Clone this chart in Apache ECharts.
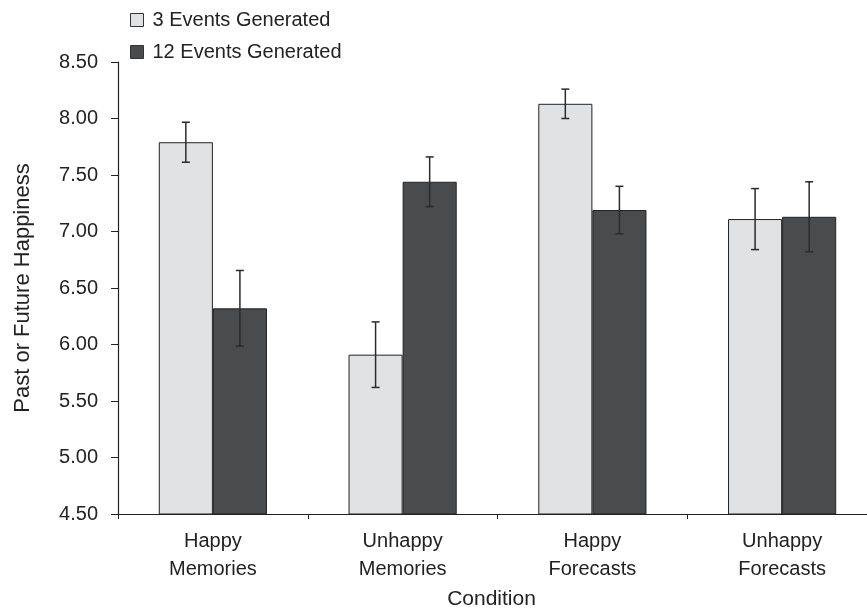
<!DOCTYPE html>
<html>
<head>
<meta charset="utf-8">
<title>Past or Future Happiness</title>
<script src="https://cdn.jsdelivr.net/npm/echarts@6/dist/echarts.min.js"></script>
<style>
	html, body { margin: 0; padding: 0; background: #fff; }
	#main { width: 867px; height: 610px; }
</style>
</head>
<body>
<div id="main"></div>
<script>
var categories = ['Happy\nMemories', 'Unhappy\nMemories', 'Happy\nForecasts', 'Unhappy\nForecasts'];
var seriesNames = ['3 Events Generated', '12 Events Generated'];
var events3 = [7.79, 5.91, 8.13, 7.11];
var events12 = [6.32, 7.44, 7.19, 7.13];
var err3 = [0.177, 0.29, 0.13, 0.27];
var err12 = [0.335, 0.22, 0.21, 0.31];
var yTicks = [4.5, 5, 5.5, 6, 6.5, 7, 7.5, 8, 8.5];

var FONT = 'Liberation Sans';
var barGapPct = 43;

// [index, low, high] for the error bars
function errData(vals, errs) {
	var out = [];
	for (var i = 0; i < vals.length; i++) {
		out.push([i, vals[i] - errs[i], vals[i] + errs[i]]);
	}
	return out;
}

// side: -1 left bar, 1 right bar
function errRender(side) {
	return function(params, api) {
		var idx = api.value(0);
		var lo = api.coord([idx, api.value(1)]);
		var hi = api.coord([idx, api.value(2)]);
		var band = api.size([1, 0])[0];
		var x = lo[0] + side * band * (1 - barGapPct / 100) / 4;
		var cap = 4;
		var style = { stroke: '#2b2b2b', lineWidth: 1.5 };
		return {
			type: 'group',
			children: [
				{ type: 'line', shape: { x1: x, y1: hi[1], x2: x, y2: lo[1] }, style: style },
				{ type: 'line', shape: { x1: x - cap, y1: hi[1], x2: x + cap, y2: hi[1] }, style: style },
				{ type: 'line', shape: { x1: x - cap, y1: lo[1], x2: x + cap, y2: lo[1] }, style: style }
			]
		};
	};
}

var myChart = echarts.init(document.getElementById('main'));
var option = {
	backgroundColor: '#fff',
	animation: false,
	textStyle: { fontFamily: FONT },
	legend: {
		orient: 'vertical',
		left: 125,
		top: 5,
		itemWidth: 13,
		itemHeight: 13,
		itemGap: 12,
		textStyle: { fontFamily: FONT, fontSize: 20, color: '#222', padding: [0, 0, 0, 4] },
		data: [
			{ name: seriesNames[0], icon: 'rect', itemStyle: { color: '#e1e2e4', borderColor: '#333', borderWidth: 1 } },
			{ name: seriesNames[1], icon: 'rect', itemStyle: { color: '#4a4b4d', borderColor: '#333', borderWidth: 1 } }
		]
	},
	// plot runs past the right edge, as in the original
	grid: { left: 118, right: -10, top: 62, bottom: 96, outerBoundsMode: 'none', containLabel: false },
	xAxis: {
		type: 'category',
		data: categories,
		name: 'Condition',
		nameLocation: 'middle',
		nameGap: 75,
		nameTextStyle: { fontFamily: FONT, fontSize: 21, color: '#222', padding: [0, 12, 0, 0] },
		axisLine: { lineStyle: { color: '#222', width: 1.2 } },
		axisTick: { show: true, length: 5, lineStyle: { color: '#222' } },
		axisLabel: { fontFamily: FONT, fontSize: 20, color: '#222', lineHeight: 28, margin: 13 }
	},
	yAxis: {
		type: 'value',
		min: yTicks[0],
		max: yTicks[yTicks.length - 1],
		interval: 0.5,
		name: 'Past or Future Happiness',
		nameLocation: 'middle',
		nameGap: 84,
		nameTextStyle: { fontFamily: FONT, fontSize: 22, color: '#222' },
		splitLine: { show: false },
		axisLine: { show: true, lineStyle: { color: '#222', width: 1.2 } },
		axisTick: { show: true, length: 7, lineStyle: { color: '#222' } },
		axisLabel: {
			fontFamily: FONT, fontSize: 20, color: '#222', margin: 20,
			formatter: function(v) { return v.toFixed(2); }
		}
	},
	series: [
		{
			name: seriesNames[0],
			type: 'bar',
			data: events3,
			barGap: 0,
			barCategoryGap: barGapPct + '%',
			itemStyle: { color: '#e1e2e4', borderColor: '#222', borderWidth: 1 }
		},
		{
			name: seriesNames[1],
			type: 'bar',
			data: events12,
			itemStyle: { color: '#4a4b4d', borderColor: '#222', borderWidth: 1 }
		},
		{
			type: 'custom',
			name: 'err3',
			data: errData(events3, err3),
			renderItem: errRender(-1),
			z: 10,
			silent: true
		},
		{
			type: 'custom',
			name: 'err12',
			data: errData(events12, err12),
			renderItem: errRender(1),
			z: 10,
			silent: true
		}
	]
};

myChart.setOption(option);
</script>
</body>
</html>
